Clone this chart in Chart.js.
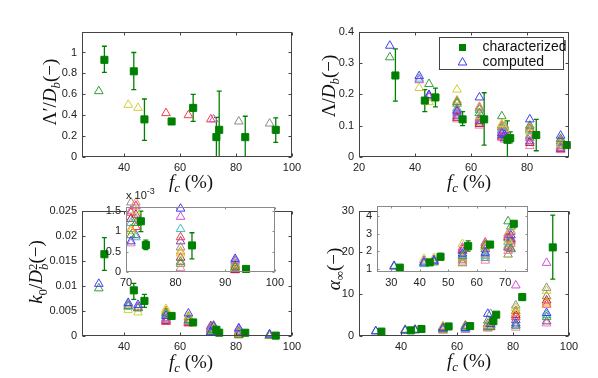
<!DOCTYPE html>
<html>
<head>
<meta charset="utf-8">
<script src="https://cdn.jsdelivr.net/npm/chart.js@4"></script>
<style>
  body { margin: 0; background: #fff; }
  #wrap { position: relative; width: 598px; height: 378px; overflow: hidden; }
  #plots canvas { position: absolute; }
  .lbl { position: absolute; font-family: "Liberation Serif", "DejaVu Serif", serif; font-size: 19px; color: #111;
         white-space: nowrap; transform: translate(-50%, -50%); line-height: 1; }
  .lbl.rot { transform: translate(-50%, -50%) rotate(-90deg); }
  .lbl sub, .lbl sup { font-size: 68%; line-height: 0; }
  .st { display: inline-flex; flex-direction: column; font-size: 68%; line-height: 0.9; vertical-align: 0.4em; }
  #exp { position: absolute; left: 126px; top: 186px; font: 11px "Liberation Sans", Arial, sans-serif; color: #222; }
  #exp sup { font-size: 9px; }
</style>
</head>
<body>
<div id="wrap">
  <div id="plots"></div>
  <div class="lbl rot" style="left:49px;top:92px">Λ′/<i>D</i><sub><i>b</i></sub>(−)</div>
  <div class="lbl rot" style="left:328px;top:86px">Λ/<i>D</i><sub><i>b</i></sub>(−)</div>
  <div class="lbl rot" style="left:38px;top:272px"><i>k</i><sub>0</sub>/<i>D</i><span class="st"><span>2</span><span><i>b</i></span></span>(−)</div>
  <div class="lbl rot" style="left:333px;top:269px"><i>α</i><sub>∞</sub>(−)</div>
  <div class="lbl" style="left:191px;top:181px"><i>f</i><sub><i>c</i></sub> (%)</div>
  <div class="lbl" style="left:469px;top:181px"><i>f</i><sub><i>c</i></sub> (%)</div>
  <div class="lbl" style="left:191px;top:361px"><i>f</i><sub><i>c</i></sub> (%)</div>
  <div class="lbl" style="left:469px;top:360px"><i>f</i><sub><i>c</i></sub> (%)</div>
  <div id="exp">x 10<sup>-3</sup></div>
</div>
<script>
// x positions (fibre content, %)
const charX = [33, 43.5, 47.3, 57, 64.7, 73, 74, 83.3, 94.2];
const compX = [31, 41.5, 45, 55, 63, 71, 72, 81, 92];

// Lambda' / Db
const lamPrimeChar = [0.93, 0.82, 0.36, 0.34, 0.47, 0.19, 0.26, 0.19, 0.26];
const lamPrimeLo = [0.81, 0.645, 0.16, null, 0.34, -0.1, -0.1, -0.1, 0.14];
const lamPrimeHi = [1.06, 1.0, 0.555, null, 0.60, 0.38, 0.63, 0.39, 0.375];
const lamPrimeComp = [
  null,
  [0.63, null, null, null, null, null, null, null, null],
  [null, 0.50, 0.47, null, null, null, null, null, null],
  [null, null, null, null, null, null, 0.36, null, null],
  null, null,
  [null, null, null, 0.42, 0.40, 0.36, null, null, null],
  [null, null, null, null, null, null, null, 0.34, 0.32],
  null, null, null, null
];

// Lambda / Db
const lamChar = [0.26, 0.18, 0.19, 0.12, 0.12, 0.055, 0.06, 0.07, 0.038];
const lamLo = [0.178, 0.145, 0.16, 0.10, 0.038, -0.01, 0.045, 0.02, null];
const lamHi = [0.345, 0.215, 0.22, 0.145, 0.205, 0.115, 0.08, 0.12, null];
const lamComp = [
  [0.355, 0.258, 0.198, 0.145, 0.19, 0.075, 0.07, 0.12, 0.068],
  [0.318, null, 0.233, 0.175, 0.14, 0.13, null, 0.10, 0.058],
  [null, 0.22, 0.175, 0.215, 0.13, 0.105, 0.09, 0.08, 0.04],
  [null, 0.245, 0.19, 0.135, 0.12, 0.08, 0.085, 0.06, 0.03],
  [null, 0.25, null, 0.155, 0.15, 0.09, 0.095, 0.085, 0.045],
  [null, null, null, 0.18, 0.16, 0.10, 0.10, 0.095, 0.055],
  [null, null, null, 0.15, 0.155, 0.095, 0.075, 0.09, 0.05],
  [null, null, null, 0.14, 0.125, 0.085, 0.065, 0.07, 0.035],
  [null, null, 0.195, 0.13, 0.115, 0.07, 0.06, 0.05, 0.028],
  [null, null, null, 0.125, 0.105, 0.065, 0.072, 0.045, 0.025],
  [null, null, null, 0.12, 0.10, 0.06, 0.055, 0.035, 0.022],
  [null, null, null, 0.17, 0.11, 0.10, 0.08, 0.065, 0.04]
];

// k0 / Db^2
const k0Char = [0.0163, 0.0091, 0.0070, 0.0040, 0.0027, 0.00124, 0.00066, 0.00065, 0.000075];
const k0Lo = [0.0131, 0.0073, 0.0057, null, null, 0.00099, 0.00055, 0.00032, null];
const k0Hi = [0.0196, 0.0105, 0.0083, null, null, 0.00149, 0.00078, 0.00096, null];
const k0Comp = [
  [0.0104, 0.0066, 0.0062, 0.0040, 0.0045, 0.00075, 0.0019, 0.00155, 0.00032],
  [0.0095, 0.0060, 0.0055, 0.0045, 0.0032, 0.0009, 0.0012, 0.00025, 0.00012],
  [null, 0.0052, 0.0047, 0.0054, 0.0040, 0.0010, 0.0015, 0.00045, 0.00008],
  [null, 0.0063, 0.0058, 0.0033, 0.0028, 0.0015, 0.00162, 0.00135, 0.00028],
  [null, 0.0058, null, 0.0042, 0.0030, 0.0012, 0.00085, 0.00105, 0.00025],
  [null, null, null, 0.0050, 0.0035, 0.00105, 0.0017, 0.0005, 0.0002],
  [null, null, null, 0.0028, 0.0025, 0.00145, 0.0011, 0.00085, 0.00015],
  [null, null, null, 0.0035, 0.0031, 0.0017, 0.0013, 0.0006, 0.00018],
  [null, null, 0.0056, 0.0031, 0.0027, 0.0020, 0.0009, 0.00075, 0.0001],
  [null, null, null, 0.0030, 0.0026, 0.0013, 0.0014, 0.00035, 0.00005],
  [null, null, null, 0.0036, 0.0029, 0.0007, 0.0016, 0.0001, 0.00004],
  [null, null, null, 0.0047, 0.0038, 0.0018, 0.0021, 0.0002, 0.00006]
];

// alpha infinity
const alphaChar = [1.05, 1.35, 1.67, 2.28, 2.37, 3.56, 5.1, 9.3, 21.2];
const alphaLo = [null, null, 1.5, 2.0, null, null, null, 8.6, 13.6];
const alphaHi = [null, null, 1.87, 2.58, null, null, null, 10.0, 28.9];
const alphaComp = [
  [1.15, 1.35, 1.45, 1.85, 1.9, 5.3, 2.9, 3.0, 5.5],
  [1.1, 1.3, 1.35, 1.7, 2.3, 3.7, 2.1, 2.5, 4.5],
  [null, 1.55, 1.6, 2.4, 2.2, 2.6, 3.2, 6.7, 10.8],
  [null, 1.45, 1.5, 2.2, 2.45, 2.9, 2.15, 12.1, 17.5],
  [null, 1.25, null, 1.75, 1.7, 2.5, 3.4, 2.5, 5.0],
  [null, null, null, 1.6, 2.5, 3.0, 2.4, 5.5, 8.0],
  [null, null, null, 2.1, 2.35, 2.75, 3.1, 4.5, 7.5],
  [null, null, null, 1.5, 1.6, 2.3, 5.3, 7.3, 11.5],
  [null, null, 1.4, 2.0, 2.1, 2.8, 2.6, 3.8, 3.5],
  [null, null, null, 2.05, 2.2, 2.2, 2.7, 5.0, 8.5],
  [null, null, null, 1.4, 1.45, 2.0, 2.5, 2.0, 3.0],
  [null, null, null, 1.3, 1.8, 1.8, 3.4, 6.0, 9.5]
];

// tick values
const xTicks = [40, 60, 80, 100];
const trXTicks = [20, 40, 60, 80];
const lamPrimeTicks = [0, 0.2, 0.4, 0.6, 0.8, 1];
const lamTicks = [0, 0.1, 0.2, 0.3, 0.4];
const k0Ticks = [0, 0.005, 0.01, 0.015, 0.02, 0.025];
const alphaTicks = [0, 10, 20, 30];
const k0InsetXTicks = [70, 80, 90, 100];
const k0InsetTicks = [0, 0.0005, 0.001, 0.0015];
const alphaInsetXTicks = [30, 40, 50, 60, 70];
const alphaInsetTicks = [1, 2, 3, 4];

const GREEN = '#008000';
const compColors = ['#3c3cff', '#3c9a3c', '#d0d03a', '#d050d0', '#3cbcbc', '#f09030',
                    '#f04040', '#8c8c8c', '#8040a8', '#b02040', '#f080b0', '#8c8c30'];
const FONT = '"Liberation Sans", Arial, sans-serif';
const fmt = v => String(+v.toFixed(5));

const framePlugin = {
  id: 'frame',
  beforeDraw(chart, args, opts) {
    if (!opts.fill) return;
    const a = chart.chartArea, ctx = chart.ctx;
    ctx.save();
    ctx.fillStyle = '#fff';
    ctx.fillRect(a.left, a.top, a.right - a.left, a.bottom - a.top);
    ctx.restore();
  },
  afterDatasetsDraw(chart, args, opts) {
    const a = chart.chartArea, ctx = chart.ctx;
    const L = Math.round(a.left) + 0.5, R = Math.round(a.right) - 0.5;
    const T = Math.round(a.top) + 0.5, B = Math.round(a.bottom) - 0.5;
    const tl = opts.tick;
    ctx.save();
    ctx.strokeStyle = opts.color;
    ctx.lineWidth = 1;
    ctx.strokeRect(L, T, R - L, B - T);
    ctx.beginPath();
    chart.scales.x.ticks.forEach(t => {
      const p = Math.round(chart.scales.x.getPixelForValue(t.value)) + 0.5;
      ctx.moveTo(p, B); ctx.lineTo(p, B - tl);
      ctx.moveTo(p, T); ctx.lineTo(p, T + tl);
    });
    chart.scales.y.ticks.forEach(t => {
      const p = Math.round(chart.scales.y.getPixelForValue(t.value)) + 0.5;
      ctx.moveTo(L, p); ctx.lineTo(L + tl, p);
      ctx.moveTo(R, p); ctx.lineTo(R - tl, p);
    });
    ctx.stroke();
    ctx.restore();
  }
};

// vertical error bars for the characterized points (dataset 0)
const errPlugin = {
  id: 'errbars',
  beforeDatasetsDraw(chart) {
    const ds = chart.data.datasets[0], xs = chart.scales.x, ys = chart.scales.y;
    const a = chart.chartArea, ctx = chart.ctx;
    ctx.save();
    ctx.beginPath();
    ctx.rect(a.left, a.top, a.right - a.left, a.bottom - a.top);
    ctx.clip();
    ctx.strokeStyle = GREEN;
    ctx.lineWidth = 1.3;
    ctx.beginPath();
    ds.data.forEach((p, i) => {
      const lo = ds.errLo[i], hi = ds.errHi[i];
      if (lo == null) return;
      const x = xs.getPixelForValue(p.x);
      const y1 = ys.getPixelForValue(lo), y2 = ys.getPixelForValue(hi);
      ctx.moveTo(x, y1); ctx.lineTo(x, y2);
      ctx.moveTo(x - 2.5, y1); ctx.lineTo(x + 2.5, y1);
      ctx.moveTo(x - 2.5, y2); ctx.lineTo(x + 2.5, y2);
    });
    ctx.stroke();
    ctx.restore();
  }
};

const legendPlugin = {
  id: 'boxLegend',
  afterDraw(chart) {
    const a = chart.chartArea, ctx = chart.ctx;
    const w = 124, h = 32;
    const x0 = Math.round(a.right - 6 - w) + 0.5, y0 = Math.round(a.top + 5) + 0.5;
    ctx.save();
    ctx.fillStyle = '#fff';
    ctx.fillRect(x0, y0, w, h);
    ctx.strokeStyle = '#444';
    ctx.lineWidth = 1;
    ctx.strokeRect(x0, y0, w, h);
    ctx.fillStyle = GREEN;
    ctx.fillRect(x0 + 19.5, y0 + 6.5, 7, 7);
    const cx = x0 + 23, cy = y0 + 25, r = 5;
    ctx.strokeStyle = compColors[0];
    ctx.beginPath();
    ctx.moveTo(cx, cy - r);
    ctx.lineTo(cx + r * 0.866, cy + r * 0.5);
    ctx.lineTo(cx - r * 0.866, cy + r * 0.5);
    ctx.closePath();
    ctx.stroke();
    ctx.fillStyle = '#111';
    ctx.font = '14px ' + FONT;
    ctx.textBaseline = 'middle';
    ctx.fillText('characterized', x0 + 43, y0 + 10);
    ctx.fillText('computed', x0 + 43, y0 + 25);
    ctx.restore();
  }
};

const plots = document.getElementById('plots');

function panel(box, pad, d) {
  const cv = document.createElement('canvas');
  cv.width = box.w + pad.l + pad.r;
  cv.height = box.h + pad.t + pad.b;
  cv.style.left = (box.x - pad.l) + 'px';
  cv.style.top = (box.y - pad.t) + 'px';
  plots.appendChild(cv);

  const datasets = [{
    data: charX.map((x, i) => ({ x, y: d.char[i] })),
    errLo: d.lo, errHi: d.hi,
    pointStyle: 'rect', pointRadius: 5,
    pointBackgroundColor: GREEN, pointBorderColor: GREEN,
    backgroundColor: GREEN, borderColor: GREEN, borderWidth: 1, clip: false
  }];
  d.comp.forEach((row, k) => {
    if (!row) return;
    datasets.push({
      data: compX.map((x, i) => ({ x, y: row[i] })).filter(p => p.y !== null),
      pointStyle: 'triangle', pointRadius: 5,
      pointBorderColor: compColors[k], borderColor: compColors[k],
      pointBackgroundColor: 'rgba(255,255,255,0)', backgroundColor: 'rgba(255,255,255,0)',
      borderWidth: 1, pointBorderWidth: 1, clip: false
    });
  });

  const tickFont = { family: FONT, size: 11 };
  return new Chart(cv, {
    type: 'scatter',
    data: { datasets },
    options: {
      responsive: false,
      animation: false,
      events: [],
      layout: { padding: { left: 0, top: pad.t, right: pad.r, bottom: 0 } },
      plugins: {
        legend: { display: false },
        tooltip: { enabled: false },
        frame: { fill: d.inset, color: d.inset ? '#8a8a8a' : '#444', tick: d.inset ? 2 : 3 }
      },
      scales: {
        x: {
          type: 'linear', min: d.xmin, max: d.xmax,
          afterBuildTicks: s => { s.ticks = d.xt.map(v => ({ value: v })); },
          afterFit: s => { s.height = pad.b; },
          grid: { display: false, drawTicks: false },
          border: { display: false },
          ticks: { font: tickFont, color: '#222', padding: 4, maxRotation: 0, autoSkip: false, callback: v => fmt(v) }
        },
        y: {
          type: 'linear', min: d.ymin, max: d.ymax,
          afterBuildTicks: s => { s.ticks = d.yt.map(v => ({ value: v })); },
          afterFit: s => { s.width = pad.l; },
          grid: { display: false, drawTicks: false },
          border: { display: false },
          ticks: { font: tickFont, color: '#222', padding: 5, autoSkip: false, callback: d.ylab || (v => fmt(v)) }
        }
      }
    },
    plugins: d.legend ? [framePlugin, errPlugin, legendPlugin] : [framePlugin, errPlugin]
  });
}

const mainPad = { l: 46, t: 8, r: 14, b: 22 };
const insetPad = { l: 24, t: 6, r: 12, b: 18 };

panel({ x: 82, y: 28, w: 210, h: 129 }, mainPad, {
  char: lamPrimeChar, lo: lamPrimeLo, hi: lamPrimeHi, comp: lamPrimeComp,
  xmin: 25, xmax: 100, ymin: 0, ymax: 1.2, xt: xTicks, yt: lamPrimeTicks
});
panel({ x: 359, y: 28, w: 210, h: 129 }, mainPad, {
  char: lamChar, lo: lamLo, hi: lamHi, comp: lamComp,
  xmin: 20, xmax: 95, ymin: 0, ymax: 0.4, xt: trXTicks, yt: lamTicks, legend: true
});
panel({ x: 82, y: 207, w: 210, h: 129 }, mainPad, {
  char: k0Char, lo: k0Lo, hi: k0Hi, comp: k0Comp,
  xmin: 25, xmax: 100, ymin: 0, ymax: 0.025, xt: xTicks, yt: k0Ticks
});
panel({ x: 359, y: 207, w: 210, h: 129 }, mainPad, {
  char: alphaChar, lo: alphaLo, hi: alphaHi, comp: alphaComp,
  xmin: 25, xmax: 100, ymin: 0, ymax: 30, xt: xTicks, yt: alphaTicks
});
panel({ x: 126, y: 201, w: 150, h: 71 }, insetPad, {
  char: k0Char, lo: k0Lo, hi: k0Hi, comp: k0Comp, inset: true,
  xmin: 70, xmax: 100, ymin: 0, ymax: 0.0016, xt: k0InsetXTicks, yt: k0InsetTicks,
  ylab: v => fmt(v * 1000)
});
panel({ x: 377, y: 200, w: 151, h: 72 }, insetPad, {
  char: alphaChar, lo: alphaLo, hi: alphaHi, comp: alphaComp, inset: true,
  xmin: 25, xmax: 78, ymin: 0.8, ymax: 4.6, xt: alphaInsetXTicks, yt: alphaInsetTicks
});
</script>
</body>
</html>
